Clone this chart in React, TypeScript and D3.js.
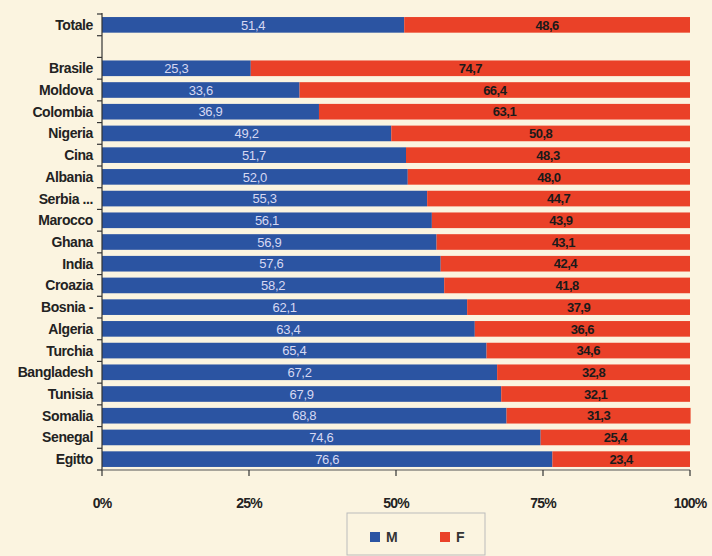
import React from "react";
import * as d3 from "d3";

const categories = ["Totale", "", "Brasile", "Moldova", "Colombia", "Nigeria", "Cina", "Albania", "Serbia ...", "Marocco", "Ghana", "India", "Croazia", "Bosnia -", "Algeria", "Turchia", "Bangladesh", "Tunisia", "Somalia", "Senegal", "Egitto"];
const maleValues = [51.4, null, 25.3, 33.6, 36.9, 49.2, 51.7, 52.0, 55.3, 56.1, 56.9, 57.6, 58.2, 62.1, 63.4, 65.4, 67.2, 67.9, 68.8, 74.6, 76.6];
const femaleValues = [48.6, null, 74.7, 66.4, 63.1, 50.8, 48.3, 48.0, 44.7, 43.9, 43.1, 42.4, 41.8, 37.9, 36.6, 34.6, 32.8, 32.1, 31.3, 25.4, 23.4];
const xTicks = [0, 25, 50, 75, 100];
const seriesNames = ["M", "F"];

const W = 712, H = 556;
const left = 102, right = 690, top = 14, bottom = 470;
const BLUE = "#2b54a2";
const RED = "#ea4128";
const BG = "#fbf4e0";
const FONT = "'Liberation Sans', Arial, sans-serif";

export default function App() {
  const x = d3.scaleLinear().domain([0, 100]).range([left, right]);
  const y = d3.scaleBand<number>().domain(d3.range(categories.length)).range([top, bottom]).paddingInner(0.28).paddingOuter(0.14);
  const step = (bottom - top) / categories.length;
  const fmt = (v: number) => v.toFixed(1).replace(".", ",");

  return (
    <svg width={W} height={H} style={{ position: "absolute", left: 0, top: 0, background: BG }}>
      <rect x={0} y={0} width={W} height={H} fill={BG} />
      {categories.map((c, i) => {
        const m = maleValues[i];
        const f = femaleValues[i];
        if (m == null || f == null) return null;
        const y0 = y(i)!;
        const bh = y.bandwidth();
        const cy = y0 + bh / 2;
        return (
          <g key={i}>
            <rect x={x(0)} y={y0} width={x(m) - x(0)} height={bh} fill={BLUE} />
            <rect x={x(m)} y={y0} width={x(m + f) - x(m)} height={bh} fill={RED} />
            <text x={(x(0) + x(m)) / 2} y={cy} dy="0.36em" textAnchor="middle" fontFamily={FONT} fontSize={13} letterSpacing={-0.3} fill="#d6d8f2">{fmt(m)}</text>
            <text x={(x(m) + x(m + f)) / 2} y={cy} dy="0.36em" textAnchor="middle" fontFamily={FONT} fontSize={13} fontWeight="bold" letterSpacing={-0.5} fill="#1a1a1a">{fmt(f)}</text>
          </g>
        );
      })}
      {/* y axis */}
      <line x1={left} x2={left} y1={top - 1} y2={bottom} stroke="#333" strokeWidth={1.2} />
      {d3.range(categories.length + 1).map((k) => (
        <line key={k} x1={left - 5} x2={left} y1={top + k * step} y2={top + k * step} stroke="#333" strokeWidth={1.2} />
      ))}
      {categories.map((c, i) => (
        <text key={c + i} x={left - 9} y={y(i)! + y.bandwidth() / 2} dy="0.36em" textAnchor="end" fontFamily={FONT} fontSize={14} fontWeight="bold" letterSpacing={-0.4} fill="#222">{c}</text>
      ))}
      {/* x axis */}
      <line x1={left} x2={right} y1={bottom} y2={bottom} stroke="#555" strokeWidth={1.2} />
      {xTicks.map((t) => (
        <g key={t}>
          <line x1={x(t)} x2={x(t)} y1={bottom} y2={bottom + 6} stroke="#333" strokeWidth={1.2} />
          <text x={x(t)} y={503} dy="0.36em" textAnchor="middle" fontFamily={FONT} fontSize={14} fontWeight="bold" letterSpacing={-0.8} fill="#222">{t}%</text>
        </g>
      ))}
      {/* legend */}
      <rect x={347} y={513} width={138} height={42} fill="none" stroke="#bbb" strokeWidth={1} />
      {seriesNames.map((s, i) => (
        <g key={s}>
          <rect x={370 + i * 70} y={532} width={10} height={10} fill={i === 0 ? BLUE : RED} />
          <text x={386 + i * 70} y={537} dy="0.36em" fontFamily={FONT} fontSize={14} fontWeight="bold" fill="#333">{s}</text>
        </g>
      ))}
    </svg>
  );
}
